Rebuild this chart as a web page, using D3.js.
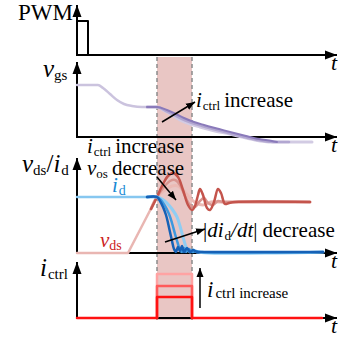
<!DOCTYPE html>
<html>
<head>
<meta charset="utf-8">
<script src="https://cdn.jsdelivr.net/npm/d3@7"></script>
</head>
<body style="margin:0">
<svg id="chart" width="338" height="345"></svg>
<script>
// time in arbitrary units, 0 .. 260
const pwmWave = [[0, 0], [0, 34], [11, 34], [11, 0]];

// v_gs (panel 2)
const vgsBefore = [[0, 52], [21, 52], [26, 49], [33, 43], [40, 37], [47, 33], [55, 31], [65, 30], [80, 30]];
const vgsLight = [[70, 30], [80, 30], [88, 26], [95, 22], [103, 17], [113, 13], [123, 10], [138, 6], [153, 3], [165, 0], [178, -3], [195, -5], [235, -5]];
const vgsMid = [[70, 30], [80, 30], [89, 26], [97, 22], [105, 18], [115, 14], [125, 11], [140, 7], [155, 3], [167, 0], [180, -3], [196, -5], [212, -5]];
const vgsDark = [[70, 30], [80, 30], [90, 27], [99, 23], [107, 19], [117, 15], [127, 12], [142, 8], [157, 4], [169, 1], [182, -2], [195, -4], [200, -5]];

// v_ds / i_d (panel 3)
const vdsBefore = [[0, 0], [51, 0], [80, 56]];
const vdsLight = [[74, 44], [80, 56], [88, 63], [95, 67], [101, 67], [107, 62], [113, 55], [119, 50], [126, 48], [134, 51], [142, 51], [233, 51]];
const vdsMid = [[74, 44], [80, 56], [87, 66], [93, 72], [98, 73], [103, 68], [108, 57], [113, 48], [118, 46], [123, 52], [127, 55], [131, 50], [136, 48], [141, 52], [146, 51], [152, 51], [233, 51]];
const vdsDark = [[74, 44], [80, 56], [86, 69], [91, 77], [96, 80], [101, 76], [106, 63], [111, 48], [115, 43], [118, 47], [121, 58], [123, 64], [126, 58], [130, 45], [133, 43], [137, 51], [141, 64], [144, 60], [148, 49], [152, 50], [158, 51], [233, 51]];

const idBefore = [[0, 56], [80, 56]];
const idLight = [[70, 56], [80, 56], [85, 54], [90, 50], [95, 44], [100, 36], [103, 27], [106, 16], [108, 9], [110, 4], [113, 1], [116, 3], [120, 1], [246, 1]];
const idMid = [[70, 56], [80, 56], [84, 53], [88, 47], [92, 39], [95, 30], [98, 19], [101, 9], [103, 3], [105, 1], [107, 5], [109, 1], [112, 4], [115, 1], [119, 2], [125, 1], [246, 1]];
const idDark = [[70, 56], [80, 56], [83, 52], [86, 46], [89, 38], [91, 30], [93, 21], [95, 12], [97, 4], [99, 1], [101, 6], [103, 2], [105, 7], [107, 1], [110, 5], [113, 1], [116, 3], [120, 1], [126, 1], [246, 1]];

// i_ctrl (panel 4)
const ctrlLow = [[0, 0], [80, 0], [80, 21], [115, 21], [115, 0], [245, 0]];
const ctrlMid = [[80, 0], [80, 32], [115, 32], [115, 0]];
const ctrlHigh = [[80, 0], [80, 44], [115, 44], [115, 0]];

const window_ = [80, 115];

const svg = d3.select('#chart');

const x = d3.scaleLinear().domain([0, 260]).range([77, 337]);
const yPwm = d3.scaleLinear().domain([0, 50]).range([55, 5]);
const yVgs = d3.scaleLinear().domain([0, 75]).range([137, 62]);
const yVds = d3.scaleLinear().domain([0, 95]).range([253, 158]);
const yCtrl = d3.scaleLinear().domain([0, 56]).range([318, 262]);

const defs = svg.append('defs');
defs.append('marker').attr('id', 'bigArrow')
    .attr('markerUnits', 'userSpaceOnUse')
    .attr('viewBox', '0 -5 12 10').attr('refX', 12).attr('refY', 0)
    .attr('markerWidth', 12).attr('markerHeight', 10).attr('orient', 'auto')
    .append('path').attr('d', 'M0,-4.5L12,0L0,4.5Z').attr('fill', '#000');
defs.append('marker').attr('id', 'smallArrow')
    .attr('markerUnits', 'userSpaceOnUse')
    .attr('viewBox', '0 -4 9 8').attr('refX', 9).attr('refY', 0)
    .attr('markerWidth', 9).attr('markerHeight', 8).attr('orient', 'auto')
    .append('path').attr('d', 'M0,-3.5L9,0L0,3.5Z').attr('fill', '#000');

// highlighted switching window
svg.append('rect')
    .attr('x', x(window_[0])).attr('y', 57)
    .attr('width', x(window_[1]) - x(window_[0])).attr('height', 263)
    .attr('fill', '#e9c6c4');
window_.forEach(t => {
    svg.append('line')
        .attr('x1', x(t)).attr('x2', x(t)).attr('y1', 57).attr('y2', 320)
        .attr('stroke', '#8c8c8c').attr('stroke-width', 1.5)
        .attr('stroke-dasharray', '4,3');
});

// axes
[yPwm, yVgs, yVds, yCtrl].forEach(y => {
    svg.append('line')
        .attr('x1', x(0)).attr('x2', x(260)).attr('y1', y(0)).attr('y2', y(0))
        .attr('stroke', '#000').attr('stroke-width', 2)
        .attr('marker-end', 'url(#bigArrow)');
    svg.append('line')
        .attr('x1', x(0)).attr('x2', x(0)).attr('y1', y(0) + 1).attr('y2', y.range()[1])
        .attr('stroke', '#000').attr('stroke-width', 2)
        .attr('marker-end', 'url(#bigArrow)');
});

function draw(data, y, color, width, curve) {
    svg.append('path')
        .datum(data)
        .attr('fill', 'none')
        .attr('stroke', color)
        .attr('stroke-width', width)
        .attr('stroke-linejoin', 'round')
        .attr('stroke-linecap', 'round')
        .attr('d', d3.line()
            .x(d => x(d[0]))
            .y(d => y(d[1]))
            .curve(curve || d3.curveLinear));
}

draw(pwmWave, yPwm, '#000', 2);

draw(vgsBefore, yVgs, '#cbc3de', 2.5, d3.curveMonotoneX);
draw(vgsLight, yVgs, '#d2cbe3', 3, d3.curveMonotoneX);
draw(vgsMid, yVgs, '#b2a7d1', 2.5, d3.curveMonotoneX);
draw(vgsDark, yVgs, '#8a7aba', 2, d3.curveMonotoneX);

draw(vdsBefore, yVds, '#e9b6b2', 2.5);
draw(vdsLight, yVds, '#ebbab5', 3, d3.curveCatmullRom);
draw(vdsMid, yVds, '#d99590', 2.5, d3.curveCatmullRom);
draw(vdsDark, yVds, '#c4544c', 2.5, d3.curveCatmullRom);

draw(idBefore, yVds, '#86c7f0', 2.5);
draw(idLight, yVds, '#8fcdf3', 3, d3.curveCatmullRom);
draw(idMid, yVds, '#3c98df', 2.5, d3.curveCatmullRom);
draw(idDark, yVds, '#1661b6', 2.5, d3.curveCatmullRom);

draw(ctrlHigh, yCtrl, '#ffa3a3', 2.5);
draw(ctrlMid, yCtrl, '#ff5a5a', 2.5);
draw(ctrlLow, yCtrl, '#ff1111', 2.5);

// annotation arrows (data units of each panel)
function arrow(t1, v1, t2, v2, y) {
    svg.append('line')
        .attr('x1', x(t1)).attr('y1', y(v1)).attr('x2', x(t2)).attr('y2', y(v2))
        .attr('stroke', '#000').attr('stroke-width', 1.5)
        .attr('marker-end', 'url(#smallArrow)');
}
arrow(85, 15, 118, 35, yVgs);
arrow(80, 76, 99, 53, yVds);
arrow(88, 11, 128, 24, yVds);
arrow(123, 10, 123, 50, yCtrl);

// labels: each piece its own text element, placed one after another
function label(px, py, parts, size, color) {
    let cx = px;
    parts.forEach(p => {
        const fs = p.sub || size;
        const t = svg.append('text')
            .attr('x', cx).attr('y', py + (p.sub ? p.dy : 0))
            .style('font-family', "'Liberation Serif'")
            .style('font-size', fs + 'px')
            .style('fill', color || '#000')
            .text(p.s);
        if (p.i) t.style('font-style', 'italic');
        cx += t.node().getComputedTextLength() + (p.gap || 0);
    });
}

[yPwm, yVgs, yVds, yCtrl].forEach(y => label(331, y(0) + 15, [{ s: 't', i: true }], 22));

label(18, 20, [{ s: 'PWM' }], 23);
label(43, 77, [{ s: 'v', i: true }, { s: 'gs', sub: 15, dy: 3 }], 25);
label(22, 172, [{ s: 'v', i: true }, { s: 'ds', sub: 15, dy: 3 }, { s: '/' }, { s: 'i', i: true, gap: 1 }, { s: 'd', sub: 15, dy: 3 }], 25);
label(40, 276, [{ s: 'i', i: true, gap: 1 }, { s: 'ctrl', sub: 15, dy: 3 }], 25);

label(196, 107, [{ s: 'i', i: true, gap: 1 }, { s: 'ctrl', sub: 13, dy: 3, gap: 4 }, { s: 'increase' }], 21);
label(87, 153, [{ s: 'i', i: true, gap: 1 }, { s: 'ctrl', sub: 13, dy: 3, gap: 4 }, { s: 'increase' }], 21);
label(87, 175, [{ s: 'v', i: true }, { s: 'os', sub: 13, dy: 3, gap: 4 }, { s: 'decrease' }], 21);
label(112, 192, [{ s: 'i', i: true, gap: 1 }, { s: 'd', sub: 14, dy: 3 }], 21, '#1a8ad4');
label(100, 247, [{ s: 'v', i: true }, { s: 'ds', sub: 14, dy: 3 }], 21, '#cc2222');
label(203, 237, [{ s: '|' }, { s: 'di', i: true, gap: 1 }, { s: 'd', sub: 13, dy: 3 }, { s: '/dt', i: true }, { s: '|', gap: 5 }, { s: 'decrease' }], 21);
label(207, 297, [{ s: 'i', i: true, gap: 2 }, { s: 'ctrl increase', sub: 15, dy: 1 }], 23);
</script>
</body>
</html>
